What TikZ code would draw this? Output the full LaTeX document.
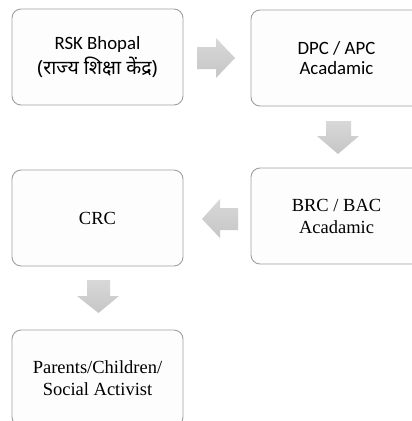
\documentclass[tikz,border=0pt]{standalone}
\usepackage{fontspec}
\setmainfont{Liberation Serif}
\newfontfamily\calib{Carlito}
\newfontfamily\deva[Script=Devanagari]{Noto Sans}
\definecolor{boxline}{HTML}{A0A0A0}
\definecolor{boxfill}{HTML}{FDFDFD}
\definecolor{arrtop}{HTML}{D8D8D8}
\definecolor{arrbot}{HTML}{C6C6C6}
\begin{document}
\begin{tikzpicture}[x=1pt,y=-1pt,
  card/.style={draw=boxline, line width=0.9pt, fill=boxfill, rounded corners=9pt,
    minimum width=171pt, minimum height=96pt, align=center, inner sep=0pt},
  sansbox/.style={card, font=\calib\fontsize{18.8}{20}\selectfont},
  serifbox/.style={card, font=\fontsize{18.5}{22}\selectfont},
  blockarrow/.style={top color=arrtop, bottom color=arrbot, draw=none}]
\useasboundingbox (0,0) rectangle (412,421);
\clip (0,0) rectangle (412,421);
\fill[white] (0,0) rectangle (412,421);
\node[sansbox] (rsk) at (97.5,57) {RSK Bhopal\\[3pt]{\deva\fontsize{19.5}{20}\selectfont (राज्य शिक्षा केंद्र)}};
\node[sansbox] (dpc) at (336.5,58) {DPC / APC\\Acadamic};
\node[serifbox] (brc) at (336.5,216) {BRC / BAC\\Acadamic};
\node[serifbox] (crc) at (97.5,218) {CRC};
\node[serifbox] (par) at (97.5,378) {Parents/Children/\\Social Activist};
% block arrows
\path[blockarrow] (197,47) -- (216,47) -- (216,38) -- (235,58) -- (216,78) -- (216,69) -- (197,69) -- cycle;
\path[blockarrow] (326,121) -- (351,121) -- (351,136) -- (359,136) -- (338,154) -- (317,136) -- (326,136) -- cycle;
\path[blockarrow] (238,208) -- (220,208) -- (220,199) -- (202,219) -- (220,238) -- (220,230) -- (238,230) -- cycle;
\path[blockarrow] (87,280) -- (110,280) -- (110,296) -- (119,296) -- (98.5,313) -- (77,296) -- (87,296) -- cycle;
\end{tikzpicture}
\end{document}
